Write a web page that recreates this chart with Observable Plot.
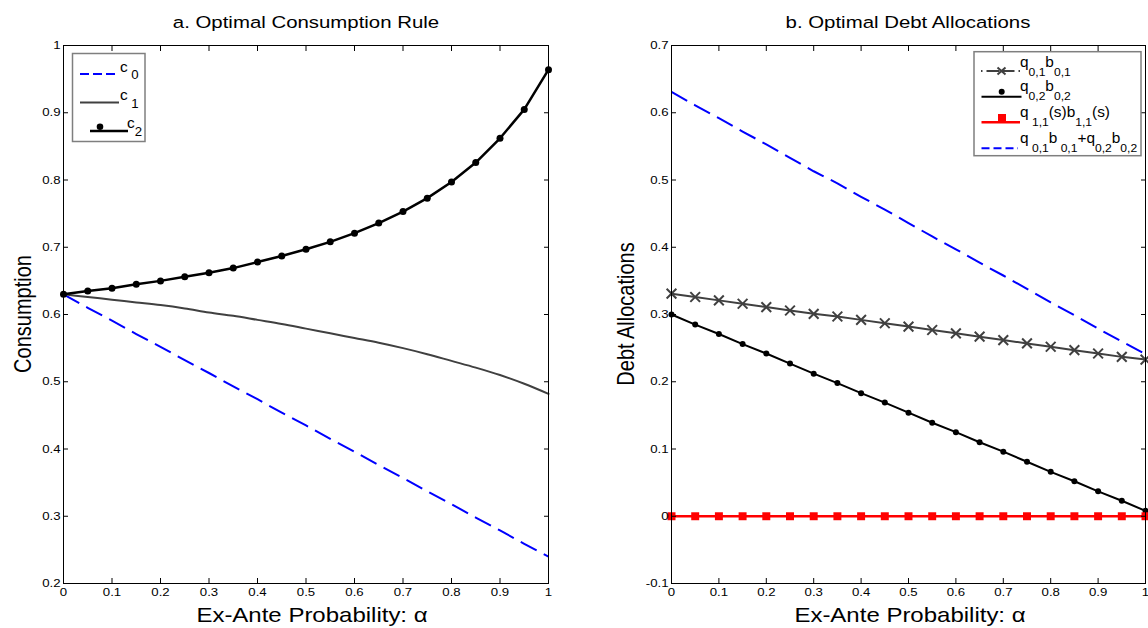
<!DOCTYPE html>
<html><head><meta charset="utf-8">
<script src="https://cdn.jsdelivr.net/npm/d3@7"></script>
<script src="https://cdn.jsdelivr.net/npm/@observablehq/plot@0.6"></script>
<style>
body{margin:0;background:#fff;}
#wrap{position:relative;width:1148px;height:628px;overflow:hidden;background:#fff;font-family:"Liberation Sans",Arial,sans-serif;}
#wrap > svg{position:absolute;top:0;}
</style></head><body><div id="wrap"></div>
<script>
// ---- data ----
const alpha = [0,0.05,0.1,0.15,0.2,0.25,0.3,0.35,0.4,0.45,0.5,0.55,0.6,0.65,0.7,0.75,0.8,0.85,0.9,0.95,1];
// panel a
const c0 = [0.630,0.610,0.591,0.571,0.552,0.532,0.513,0.493,0.474,0.454,0.435,0.415,0.396,0.376,0.357,0.337,0.318,0.298,0.279,0.259,0.240];
const c1 = [0.630,0.626,0.622,0.618,0.614,0.609,0.603,0.598,0.592,0.586,0.579,0.572,0.565,0.558,0.550,0.541,0.531,0.521,0.510,0.497,0.482];
const c2 = [0.630,0.635,0.639,0.645,0.650,0.656,0.662,0.669,0.678,0.687,0.697,0.708,0.721,0.736,0.753,0.773,0.797,0.826,0.862,0.905,0.964];
// panel b
const qb01 = [0.331,0.326,0.321,0.316,0.311,0.306,0.301,0.297,0.292,0.287,0.282,0.277,0.272,0.267,0.262,0.257,0.252,0.247,0.242,0.237,0.233];
const qb02 = [0.300,0.285,0.271,0.256,0.242,0.227,0.212,0.198,0.183,0.169,0.154,0.139,0.125,0.110,0.096,0.081,0.066,0.052,0.037,0.023,0.008];
const qb11 = [0,0,0,0,0,0,0,0,0,0,0,0,0,0,0,0,0,0,0,0,0];
const qbSum = [0.631,0.611,0.592,0.572,0.553,0.533,0.513,0.495,0.475,0.456,0.436,0.416,0.397,0.377,0.358,0.338,0.318,0.299,0.279,0.260,0.241];
// ticks
const xTicks = [0,0.1,0.2,0.3,0.4,0.5,0.6,0.7,0.8,0.9,1];
const yTicksA = [0.2,0.3,0.4,0.5,0.6,0.7,0.8,0.9,1];
const yTicksB = [-0.1,0,0.1,0.2,0.3,0.4,0.5,0.6,0.7];

const SX = 1.2;      // horizontal stretch of the original figure's text
const SX_LEG = 1.1;  // legend text stretch
const rows = (vals) => alpha.map((a, i) => ({a, v: vals[i]}));
const fmt = d => String(d);

function axes(yTicks) {
  return [
    Plot.axisX(xTicks, {anchor: "bottom", tickSize: 0, tickPadding: 5, tickFormat: fmt, label: null, fontSize: 11}),
    Plot.axisY(yTicks, {anchor: "left", tickSize: 0, tickPadding: 3, tickFormat: fmt, label: null, fontSize: 11}),
    Plot.axisX(xTicks, {anchor: "bottom", tickSize: -5, tickFormat: () => "", label: null}),
    Plot.axisX(xTicks, {anchor: "top", tickSize: -5, tickFormat: () => "", label: null}),
    Plot.axisY(yTicks, {anchor: "left", tickSize: -5, tickFormat: () => "", label: null}),
    Plot.axisY(yTicks, {anchor: "right", tickSize: -5, tickFormat: () => "", label: null}),
    Plot.frame({stroke: "black", strokeWidth: 1})
  ];
}

const common = {
  width: 574, height: 628, marginTop: 45, marginBottom: 45,
  style: {fontFamily: "'Liberation Sans', Arial, sans-serif", fontSize: "11px", color: "black", background: "transparent", overflow: "visible"}
};
const dash = "18,8";

const plotA = Plot.plot({
  ...common, marginLeft: 63, marginRight: 26,
  x: {domain: [0, 1]}, y: {domain: [0.2, 1]},
  marks: [
    Plot.line(rows(c0), {x: "a", y: "v", stroke: "#0000ff", strokeWidth: 2, strokeDasharray: dash, strokeLinecap: "butt"}),
    Plot.line(rows(c1), {x: "a", y: "v", stroke: "#404040", strokeWidth: 2, curve: "monotone-x"}),
    Plot.line(rows(c2), {x: "a", y: "v", stroke: "black", strokeWidth: 2.5}),
    Plot.dot(rows(c2), {x: "a", y: "v", r: 3.5, fill: "black", stroke: "none"}),
    ...axes(yTicksA)
  ]
});
plotA.style.left = "0px";

const plotB = Plot.plot({
  ...common, marginLeft: 97, marginRight: 3,
  x: {domain: [0, 1]}, y: {domain: [-0.1, 0.7]},
  marks: [
    Plot.line(rows(qbSum), {x: "a", y: "v", stroke: "#0000ff", strokeWidth: 2, strokeDasharray: dash, strokeLinecap: "butt"}),
    Plot.line(rows(qb01), {x: "a", y: "v", stroke: "#404040", strokeWidth: 2}),
    Plot.dot(rows(qb01), {x: "a", y: "v", symbol: "times", r: 4.5, stroke: "#404040", strokeWidth: 2}),
    Plot.line(rows(qb02), {x: "a", y: "v", stroke: "black", strokeWidth: 2}),
    Plot.dot(rows(qb02), {x: "a", y: "v", r: 3, fill: "black", stroke: "none"}),
    Plot.line(rows(qb11), {x: "a", y: "v", stroke: "#ff0000", strokeWidth: 2.5}),
    Plot.dot(rows(qb11), {x: "a", y: "v", symbol: "square", r: 4.5, fill: "#ff0000", stroke: "none"}),
    ...axes(yTicksB)
  ]
});
plotB.style.left = "574px";

const wrap = document.getElementById("wrap");
wrap.appendChild(plotA);
wrap.appendChild(plotB);

// ---- titles, labels, legends (overlay) ----
const ns = "http://www.w3.org/2000/svg";
const ov = document.createElementNS(ns, "svg");
ov.setAttribute("width", 1148); ov.setAttribute("height", 628);
ov.style.left = "0px"; ov.style.pointerEvents = "none";
ov.setAttribute("font-family", "'Liberation Sans', Arial, sans-serif");
wrap.appendChild(ov);
function el(tag, attrs, parent = ov) {
  const e = document.createElementNS(ns, tag);
  for (const k in attrs) e.setAttribute(k, attrs[k]);
  parent.appendChild(e); return e;
}
function txt(x, y, s, attrs = {}) { const t = el("text", {x, y, ...attrs}); t.textContent = s; return t; }
function rich(x, y, parts, size = 14, subSize = 11, subDy = 9) {
  const t = el("text", {x, y, "font-size": size, "data-leg": "1"});
  let down = false;
  for (const [s, sub] of parts) {
    const sp = el("tspan", {}, t);
    if (sub && !down) { sp.setAttribute("dy", subDy); down = true; }
    else if (!sub && down) { sp.setAttribute("dy", -subDy); down = false; }
    sp.setAttribute("font-size", sub ? subSize : size);
    sp.textContent = s;
  }
  t.setAttribute("xml:space", "preserve");
  return t;
}

txt(306, 28, "a. Optimal Consumption Rule", {"font-size": 17, "text-anchor": "middle"});
txt(908, 28, "b. Optimal Debt Allocations", {"font-size": 17, "text-anchor": "middle"});
txt(312, 622, "Ex-Ante Probability: α", {"font-size": 20, "text-anchor": "middle"});
txt(910, 622, "Ex-Ante Probability: α", {"font-size": 20, "text-anchor": "middle"});
txt(0, 0, "Consumption", {"font-size": 20, "text-anchor": "middle", "data-rot": "1", transform: "translate(31,314) rotate(-90)"});
txt(0, 0, "Debt Allocations", {"font-size": 20, "text-anchor": "middle", "data-rot": "1", transform: "translate(634,314) rotate(-90)"});

// legend a
el("rect", {x: 72.5, y: 53.5, width: 72.5, height: 88, fill: "white", stroke: "#7f7f7f", "stroke-width": 1.5});
el("line", {x1: 80, x2: 118, y1: 74, y2: 74, stroke: "#0000ff", "stroke-width": 2, "stroke-dasharray": "9,4"});
rich(120, 72, [["c", false], [" 0", true]], 14, 12, 7.5);
el("line", {x1: 80, x2: 119, y1: 102.5, y2: 102.5, stroke: "#404040", "stroke-width": 2});
rich(120, 100.5, [["c", false], [" 1", true]], 14, 12, 7.5);
el("line", {x1: 90, x2: 128, y1: 131, y2: 131, stroke: "black", "stroke-width": 2.5});
el("circle", {cx: 100, cy: 126.7, r: 3.3, fill: "black"});
rich(127, 128.5, [["c", false], ["2", true]], 14, 12, 7.5);

// legend b
el("rect", {x: 974, y: 51.7, width: 167, height: 104, fill: "white", stroke: "#7f7f7f", "stroke-width": 1.5});
el("line", {x1: 981, x2: 1020, y1: 71, y2: 71, stroke: "#404040", "stroke-width": 2, "stroke-dasharray": "1.5,4,13,2,13,4,1.5"});
el("path", {d: "M997.5,67.5L1005.5,74.5M997.5,74.5L1005.5,67.5", stroke: "#404040", "stroke-width": 2});
rich(1020, 67, [["q", false], ["0,1", true], ["b", false], ["0,1", true]], 14, 11, 9);
el("line", {x1: 981.5, x2: 1021.5, y1: 96.7, y2: 96.7, stroke: "black", "stroke-width": 2});
el("circle", {cx: 1001.7, cy: 91.7, r: 3, fill: "black"});
rich(1020, 91, [["q", false], ["0,2", true], ["b", false], ["0,2", true]], 14, 11, 9);
el("line", {x1: 981.5, x2: 1020, y1: 122.3, y2: 122.3, stroke: "#ff0000", "stroke-width": 2.5});
el("rect", {x: 998, y: 114, width: 8, height: 8.3, fill: "#ff0000"});
rich(1020, 117.5, [["q", false], ["  1,1", true], ["(s)b", false], ["1,1", true], ["(s)", false]], 14, 11, 9);
el("line", {x1: 981.5, x2: 1018, y1: 148.3, y2: 148.3, stroke: "#0000ff", "stroke-width": 2, "stroke-dasharray": "8,4"});
rich(1020, 143.5, [["q", false], [" 0,1", true], ["b", false], [" 0,1", true], ["+q", false], ["0,2", true], ["b", false], ["0,2", true]], 14, 11, 9);

// horizontal stretch of text (the original figure's glyphs are wider than normal)
function stretchAll(root) {
  root.querySelectorAll("text").forEach(t => {
    if (!t.textContent) return;
    const tr = t.getAttribute("transform") || "";
    if (t.getAttribute("data-rot")) { t.setAttribute("transform", tr + " scale(1," + SX + ")"); return; }
    const s = t.getAttribute("data-leg") ? SX_LEG : SX;
    const bb = t.getBBox();
    const anc = getComputedStyle(t).textAnchor;
    const ax = anc === "middle" ? bb.x + bb.width / 2 : anc === "end" ? bb.x + bb.width : bb.x;
    t.setAttribute("transform", `${tr} translate(${ax},0) scale(${s},1) translate(${-ax},0)`);
  });
}
stretchAll(plotA); stretchAll(plotB); stretchAll(ov);
</script></body></html>
